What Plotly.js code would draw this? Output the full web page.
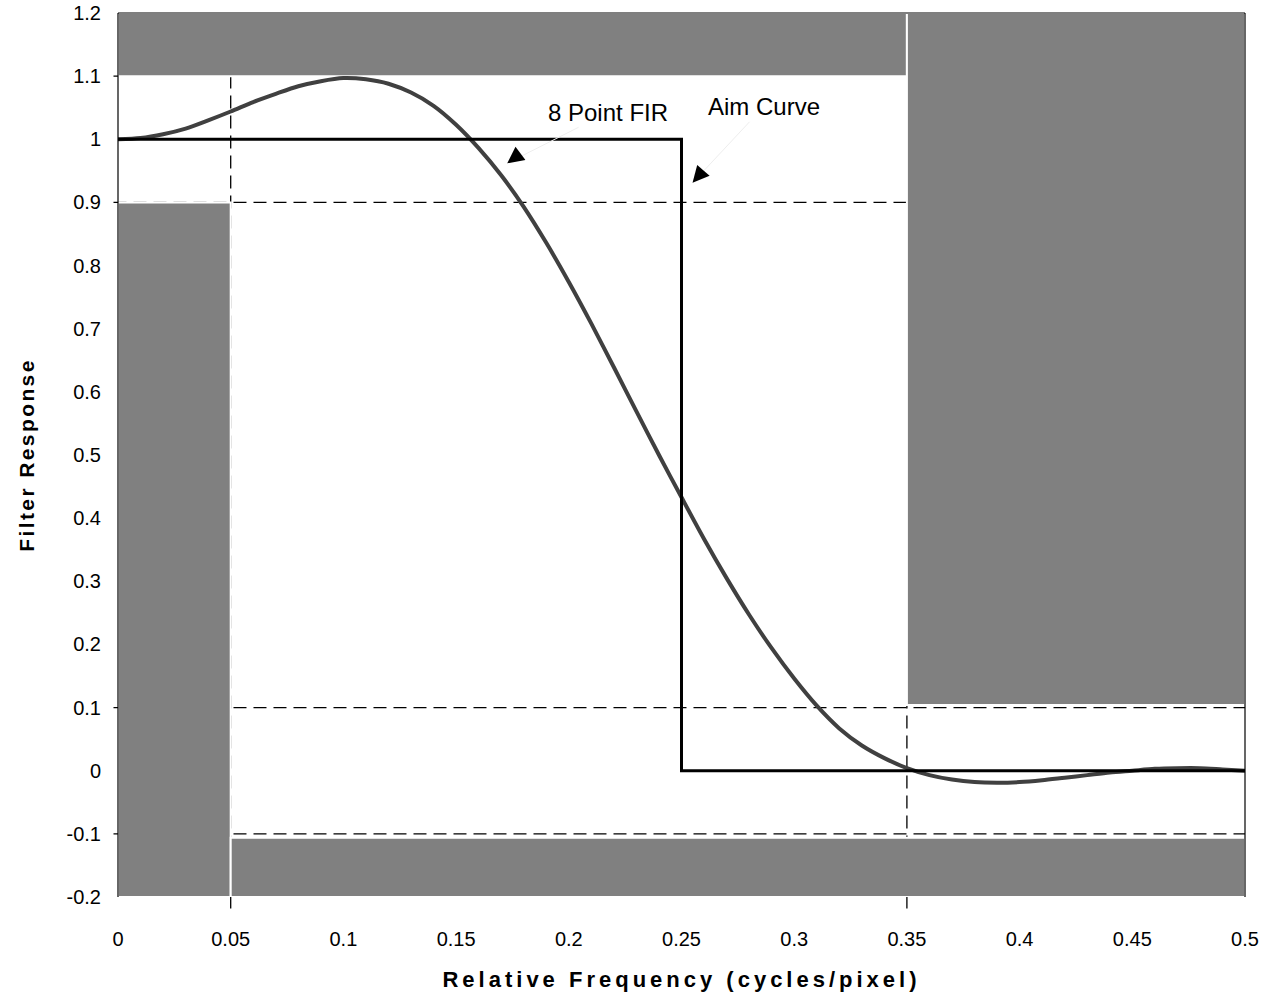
<!DOCTYPE html>
<html>
<head>
<meta charset="utf-8">
<script src="https://cdn.plot.ly/plotly-3.0.1.min.js"></script>
<style>
  body { margin: 0; background: #fff; }
  #chart { width: 1271px; height: 1000px; }
  .xtitle { letter-spacing: 4px; }
  .ytitle { letter-spacing: 2.4px; }
</style>
</head>
<body>
<div id="chart"></div>
<script>
// ---- data ----
const firX = [0, 0.01, 0.02, 0.03, 0.04, 0.05, 0.06, 0.07, 0.08, 0.09, 0.10, 0.11, 0.12, 0.13, 0.14, 0.15,
              0.16, 0.17, 0.18, 0.19, 0.20, 0.21, 0.22, 0.23, 0.24, 0.25, 0.26, 0.27, 0.28, 0.29, 0.30,
              0.31, 0.32, 0.33, 0.34, 0.35, 0.36, 0.37, 0.38, 0.39, 0.40, 0.41, 0.42, 0.43, 0.44, 0.45,
              0.46, 0.47, 0.48, 0.49, 0.50];
const firY = [1.000, 1.002, 1.008, 1.017, 1.030, 1.044, 1.059, 1.072, 1.084, 1.092, 1.097, 1.095, 1.088, 1.074, 1.053, 1.023,
              0.986, 0.943, 0.893, 0.836, 0.774, 0.708, 0.639, 0.569, 0.500, 0.433, 0.367, 0.305, 0.247, 0.194, 0.146,
              0.103, 0.067, 0.040, 0.020, 0.004, -0.007, -0.014, -0.018, -0.019, -0.018, -0.015, -0.011, -0.007, -0.003, 0.000,
              0.003, 0.004, 0.004, 0.002, 0.000];
const aimX = [0, 0.25, 0.25, 0.5];
const aimY = [1, 1, 0, 0];

const yTickVals = [1.2, 1.1, 1, 0.9, 0.8, 0.7, 0.6, 0.5, 0.4, 0.3, 0.2, 0.1, 0, -0.1, -0.2];
const yTickText = ["1.2", "1.1", "1", "0.9", "0.8", "0.7", "0.6", "0.5", "0.4", "0.3", "0.2", "0.1", "0", "-0.1", "-0.2"];
const xTickVals = [0, 0.05, 0.1, 0.15, 0.2, 0.25, 0.3, 0.35, 0.4, 0.45, 0.5];
const xTickText = ["0", "0.05", "0.1", "0.15", "0.2", "0.25", "0.3", "0.35", "0.4", "0.45", "0.5"];

// tolerance zones (gray) and limit lines
const zones = [
  {x0: 0,    x1: 0.35, y0: 1.1,  y1: 1.2},
  {x0: 0.35, x1: 0.5,  y0: 0.104, y1: 1.2},
  {x0: 0,    x1: 0.05, y0: -0.2, y1: 0.9},
  {x0: 0.05, x1: 0.5,  y0: -0.2, y1: -0.106}
];
const hLimits = [1.1, 0.9, 0.1, -0.1];
const vLimits = [0.05, 0.35];

const FONT = '"Liberation Sans", Arial, Helvetica, sans-serif';

const shapes = [];
zones.forEach(z => shapes.push({
  type: 'rect', xref: 'x', yref: 'y', x0: z.x0, x1: z.x1, y0: z.y0, y1: z.y1,
  fillcolor: '#808080', line: {color: '#ffffff', width: 2}, layer: 'below'
}));
hLimits.forEach(v => shapes.push({
  type: 'line', xref: 'paper', yref: 'y', x0: -0.004, x1: 1, y0: v, y1: v,
  line: {color: '#000', width: 1.3, dash: '13px,7px'}, layer: 'below'
}));
vLimits.forEach(v => shapes.push({
  type: 'line', xref: 'x', yref: 'paper', x0: v, x1: v, y0: -0.013, y1: 1,
  line: {color: '#000', width: 1.3, dash: '13px,7px'}, layer: 'below'
}));
// frame: left, top, right
shapes.push({type: 'line', xref: 'paper', yref: 'paper', x0: 0, x1: 0, y0: 0, y1: 1, line: {color: '#000', width: 1.2}});
shapes.push({type: 'line', xref: 'paper', yref: 'paper', x0: 0, x1: 1, y0: 1, y1: 1, line: {color: '#000', width: 1.2}});
shapes.push({type: 'line', xref: 'paper', yref: 'paper', x0: 1, x1: 1, y0: 0, y1: 1, line: {color: '#000', width: 1.2}});

const traces = [
  {x: firX, y: firY, name: '8 Point FIR', mode: 'lines',
   line: {color: '#404040', width: 4, shape: 'spline', smoothing: 0.8}, hoverinfo: 'skip'},
  {x: aimX, y: aimY, name: 'Aim Curve', mode: 'lines',
   line: {color: '#000000', width: 3}, hoverinfo: 'skip'}
];

const annotations = [
  {x: 0.1727, y: 0.962, xref: 'x', yref: 'y', ax: 101, ay: -51, text: '8 Point FIR',
   showarrow: true, arrowcolor: '#eeeeee', arrowwidth: 1, arrowhead: 0,
   font: {family: FONT, size: 24, color: '#000'}},
  {x: 0.1727, y: 0.962, xref: 'x', yref: 'y', ax: 8, ay: -6, text: '',
   showarrow: true, arrowcolor: '#000', arrowwidth: 1.5, arrowhead: 2, arrowsize: 2.2, standoff: 0},
  {x: 0.2549, y: 0.931, xref: 'x', yref: 'y', ax: 71, ay: -76, text: 'Aim Curve',
   showarrow: true, arrowcolor: '#eeeeee', arrowwidth: 1, arrowhead: 0,
   font: {family: FONT, size: 24, color: '#000'}},
  {x: 0.2549, y: 0.931, xref: 'x', yref: 'y', ax: 7, ay: -8, text: '',
   showarrow: true, arrowcolor: '#000', arrowwidth: 1.5, arrowhead: 2, arrowsize: 2.2, standoff: 0}
];

const layout = {
  width: 1271, height: 1000,
  margin: {l: 118, r: 26, t: 13, b: 103, pad: 0},
  paper_bgcolor: '#ffffff', plot_bgcolor: '#ffffff',
  showlegend: false,
  font: {family: FONT, size: 20, color: '#000'},
  xaxis: {
    range: [0, 0.5], tickvals: xTickVals, ticktext: xTickText,
    showgrid: false, zeroline: false, showline: false, ticks: '',
    ticklabelstandoff: 28,
    tickfont: {family: FONT, size: 20, color: '#000'},
    title: {text: 'Relative Frequency (cycles/pixel)', standoff: 22,
            font: {family: FONT, size: 22, color: '#000', weight: 'bold'}}
  },
  yaxis: {
    range: [-0.2, 1.2], tickvals: yTickVals, ticktext: yTickText,
    showgrid: false, zeroline: false, showline: false, ticks: '',
    ticklabelstandoff: 16,
    tickfont: {family: FONT, size: 20, color: '#000'},
    title: {text: 'Filter Response', standoff: 26,
            font: {family: FONT, size: 21, color: '#000', weight: 'bold'}}
  },
  shapes: shapes,
  annotations: annotations
};

Plotly.newPlot('chart', traces, layout, {staticPlot: true, displayModeBar: false});
</script>
</body>
</html>
